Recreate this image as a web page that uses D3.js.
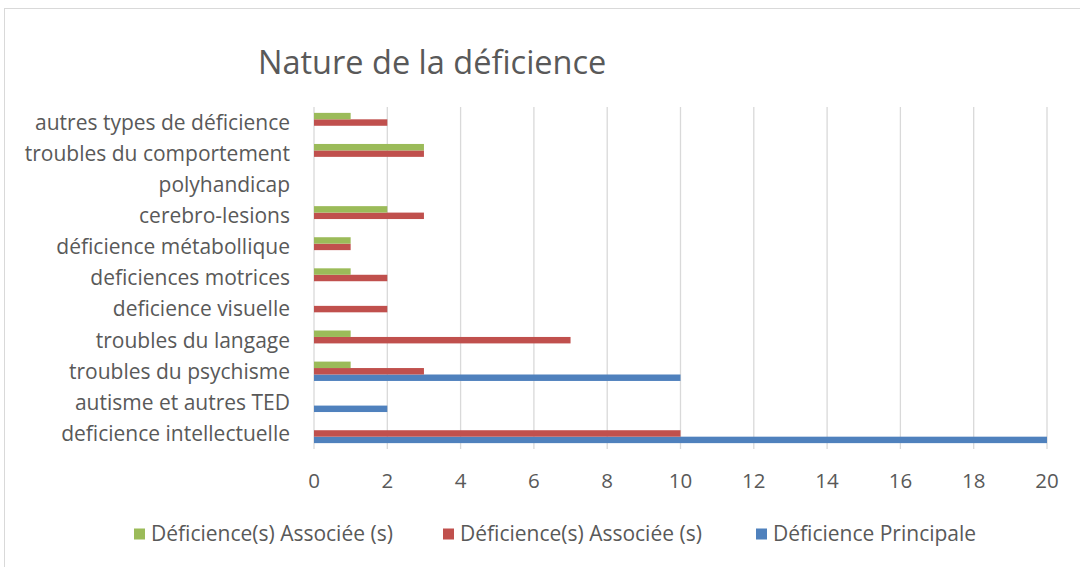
<!DOCTYPE html>
<html>
<head>
<meta charset="utf-8">
<script src="https://cdn.jsdelivr.net/npm/d3@7"></script>
<style>
  body { margin: 0; background: #fff; }
  text { font-family: "Open Sans", "Noto Sans", sans-serif; fill: #595959; }
</style>
</head>
<body>
<script>
// categories, top to bottom
var categories = ["autres types de déficience", "troubles du comportement", "polyhandicap",
  "cerebro-lesions ", "déficience métabollique", "deficiences motrices", "deficience visuelle",
  "troubles du langage ", "troubles du psychisme", "autisme et autres TED", "deficience intellectuelle"]
var principale = [0, 0, 0, 0, 0, 0, 0, 0, 10, 2, 20]
var associees1 = [2, 3, 0, 3, 1, 2, 2, 7, 3, 0, 10]
var associees2 = [1, 3, 0, 2, 1, 1, 0, 1, 1, 0, 0]
var seriesNames = ["Déficience Principale", "Déficience(s) Associée (s)", "Déficience(s) Associée (s)"]
var seriesColors = ["#4F81BD", "#C0504D", "#9BBB59"]
var xTicks = [0, 2, 4, 6, 8, 10, 12, 14, 16, 18, 20]

var series = [principale, associees1, associees2]

var svg = d3.select("body").append("svg")
  .attr("width", 1080)
  .attr("height", 567)

svg.append("rect").attr("x", 4.5).attr("y", 8.5).attr("width", 1100).attr("height", 600)
  .style("fill", "white").style("stroke", "#d9d9d9")

svg.append("text").attr("x", 258).attr("y", 74)
  .style("font-size", "32.5px").text("Nature de la déficience")

var gauche = 314, droite = 1047, haut = 107, bas = 449

var x = d3.scaleLinear().domain([0, 20]).range([gauche, droite])
var y = d3.scaleBand().domain(categories).range([haut, bas])
var inner = d3.scaleBand().domain([2, 1, 0]).range([0, y.bandwidth()]).paddingOuter(0.91)

// gridlines
svg.append("g").selectAll("line")
  .data(xTicks)
  .enter()
  .append("line")
  .attr("x1", function(d) { return x(d) })
  .attr("x2", function(d) { return x(d) })
  .attr("y1", haut)
  .attr("y2", bas)
  .style("stroke", "#d9d9d9")
  .style("stroke-width", 1.3)

// bars
series.forEach(function(vals, s) {
  svg.append("g").selectAll("rect")
    .data(vals)
    .enter()
    .append("rect")
    .attr("x", x(0))
    .attr("y", function(d, i) { return y(categories[i]) + inner(s) })
    .attr("width", function(d) { return x(d) - x(0) })
    .attr("height", inner.bandwidth())
    .style("fill", seriesColors[s])
})

// category labels
svg.append("g").selectAll("text")
  .data(categories)
  .enter()
  .append("text")
  .attr("x", 290)
  .attr("y", function(d) { return y(d) + y.bandwidth() / 2 })
  .attr("dy", "0.35em")
  .attr("text-anchor", "end")
  .style("font-size", "21px")
  .text(function(d) { return d })

// x tick labels
svg.append("g").selectAll("text")
  .data(xTicks)
  .enter()
  .append("text")
  .attr("x", function(d) { return x(d) })
  .attr("y", 481)
  .attr("dy", "0.35em")
  .attr("text-anchor", "middle")
  .style("font-size", "20.5px")
  .text(function(d) { return d })

// legend, reverse order like the original
var legendX = [134, 443, 756]
var legendOrder = [2, 1, 0]
var leg = svg.append("g").selectAll("g")
  .data(legendOrder)
  .enter()
  .append("g")
  .attr("transform", function(d, i) { return "translate(" + legendX[i] + ",534)" })
leg.append("rect").attr("x", 0).attr("y", -5.5).attr("width", 11).attr("height", 11)
  .style("fill", function(d) { return seriesColors[d] })
leg.append("text").attr("x", 17).attr("dy", "0.35em")
  .style("font-size", "21px")
  .text(function(d) { return seriesNames[d] })
</script>
</body>
</html>
